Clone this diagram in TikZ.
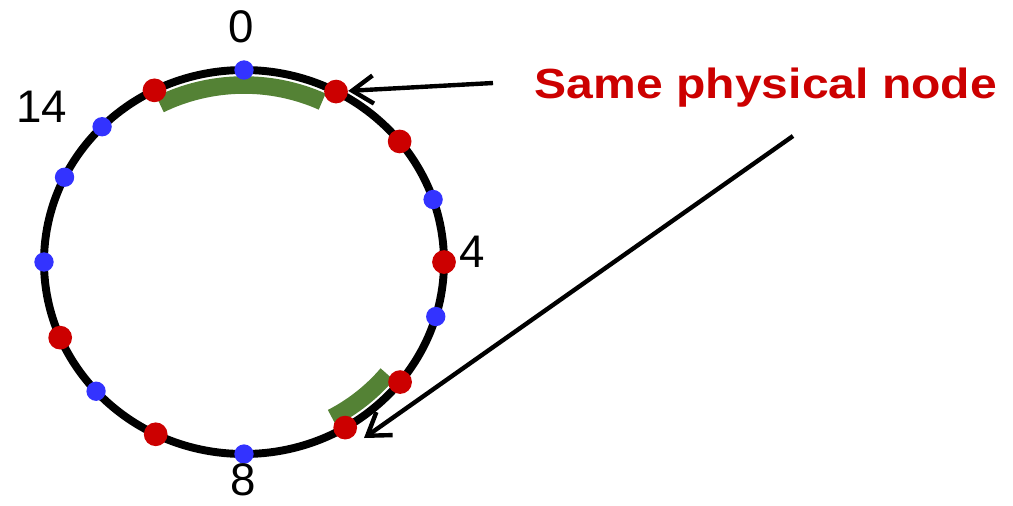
\documentclass[tikz,border=0pt]{standalone}
\usepackage{fontspec}
\setmainfont{Liberation Sans}
\usetikzlibrary{arrows.meta}
\definecolor{dotred}{HTML}{CC0000}
\definecolor{dotblue}{HTML}{3333FF}
\definecolor{rangegreen}{HTML}{548235}
\tikzset{
  phys/.style={circle,fill=dotred,inner sep=0pt,minimum size=13.5pt},
  virt/.style={circle,fill=dotblue,inner sep=0pt,minimum size=11pt},
  ringlabel/.style={inner sep=0pt,font=\fontsize{26}{30}\selectfont},
  keyrange/.style={rangegreen,line width=10pt},
  pointer/.style={line width=2.5pt,-{Straight Barb[length=12pt,width=16pt]}}
}
\begin{document}
\begin{tikzpicture}[x=0.02cm,y=0.02cm]
\useasboundingbox (-244,-243) rectangle (769,262);
\draw[line width=4.5pt] (0,0) ellipse [x radius=200, y radius=192];

\draw[keyrange] ({185*cos(117)},{177*sin(117)}) arc [start angle=117, end angle=65, x radius=185, y radius=177];
\draw[keyrange] ({185*cos(-39.3)},{177*sin(-39.3)}) arc [start angle=-39.3, end angle=-61.6, x radius=185, y radius=177];

\node[virt] (b1) at ({200*sin(0)},{192*cos(0)}) {};
\node[virt] (b2) at ({200*sin(71)},{192*cos(71)}) {};
\node[virt] (b3) at ({200*sin(106.5)},{192*cos(106.5)}) {};
\node[virt] (b4) at ({200*sin(180)},{192*cos(180)}) {};
\node[virt] (b5) at ({200*sin(227.7)},{192*cos(227.7)}) {};
\node[virt] (b6) at ({200*sin(270)},{192*cos(270)}) {};
\node[virt] (b7) at ({200*sin(296.2)},{192*cos(296.2)}) {};
\node[virt] (b8) at ({200*sin(314.8)},{192*cos(314.8)}) {};

\node[phys] (r1) at ({200*sin(27.4)},{192*cos(27.4)}) {};
\node[phys] (r2) at ({200*sin(51.1)},{192*cos(51.1)}) {};
\node[phys] (r3) at ({200*sin(90)},{192*cos(90)}) {};
\node[phys] (r4) at ({200*sin(128.7)},{192*cos(128.7)}) {};
\node[phys] (r5) at ({200*sin(149.6)},{192*cos(149.6)}) {};
\node[phys] (r6) at ({200*sin(206.2)},{192*cos(206.2)}) {};
\node[phys] (r7) at ({200*sin(246.8)},{192*cos(246.8)}) {};
\node[phys] (r8) at ({200*sin(333.4)},{192*cos(333.4)}) {};

\node[ringlabel] (p0) at (-3,235) {0};
\node[ringlabel] (p14) at (-202,155) {14};
\node[ringlabel] (p4) at (228,10) {4};
\node[ringlabel] (p8) at (-1,-218) {8};

\node[anchor=base,inner sep=0pt,text=dotred,font=\fontsize{24}{28}\selectfont\bfseries] (same) at (522,164) {\scalebox{1.14}[1]{Same physical node}};

\coordinate (from1) at (249,179);
\coordinate (from2) at (549,126);
\coordinate (tip2) at (120,-176);
\draw[pointer] (from1) -- (r1);
\draw[pointer] (from2) -- (tip2);
\end{tikzpicture}
\end{document}
